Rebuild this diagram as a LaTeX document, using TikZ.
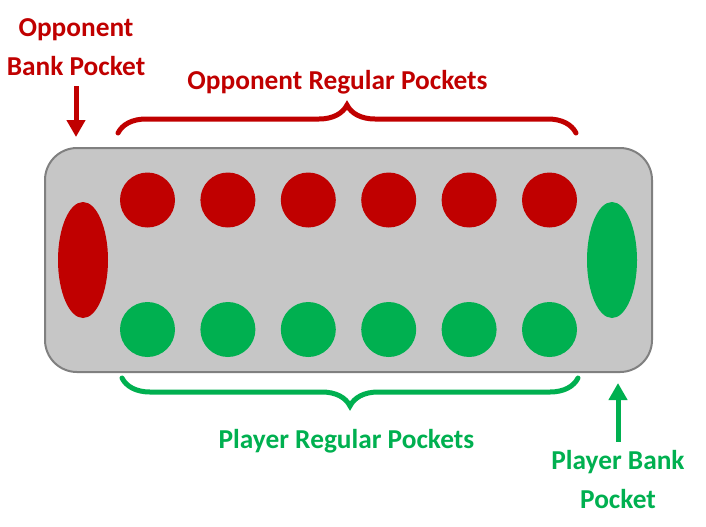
\documentclass[tikz,border=0pt]{standalone}
\usepackage{fontspec}
\setmainfont{Carlito}
\usetikzlibrary{arrows.meta,decorations.pathreplacing,shapes.geometric}

\definecolor{oppred}{HTML}{C00000}
\definecolor{plagreen}{HTML}{00B050}
\definecolor{boardgray}{HTML}{C6C6C6}
\definecolor{rimgray}{HTML}{808080}

\tikzset{
  label text/.style={font=\fontsize{20.5}{29.25}\selectfont\bfseries, inner sep=2pt, align=center},
  bank arrow/.style={line width=3.75pt, -{Triangle[width=13.5pt,length=12.75pt]}},
  pocket brace/.style={line width=3.75pt, line cap=round, decorate,
    decoration={brace, amplitude=21pt}},
}

\begin{document}
\begin{tikzpicture}[x=0.75pt,y=-0.75pt]
      \useasboundingbox (0,0) rectangle (706,526);

      % the board
      \node[draw=rimgray, fill=boardgray, line width=1.5pt, rounded corners=24pt,
            minimum width=455.25pt, minimum height=168pt, inner sep=0pt] (board) at (348.5,260) {};

      \begin{scope}[every node/.style={circle, inner sep=0pt, minimum size=41.25pt}]
        \foreach \i in {1,...,6} {
          \node[fill=oppred]   (r\i) at ({147.5+80.4*(\i-1)},200)   {};
          \node[fill=plagreen] (g\i) at ({147.5+80.4*(\i-1)},329.5) {};
        }
      \end{scope}

      \begin{scope}[every node/.style={ellipse, inner sep=0pt, minimum width=37.5pt, minimum height=87pt}]
        \node[fill=oppred]   (obank) at (83,260)  {};
        \node[fill=plagreen] (pbank) at (612,260) {};
      \end{scope}

      % labels
      \begin{scope}[every node/.style={label text, anchor=base}]
        \node[text=oppred]   (oreglbl)  at (337.5,89)  {Opponent Regular Pockets};
        \node[text=oppred]   (obanklbl) at (76,75)     {Opponent\\Bank Pocket};
        \node[text=plagreen] (preglbl)  at (346.5,448) {Player Regular Pockets};
        \node[text=plagreen] (pbanklbl) at (618,508)   {Player Bank\\Pocket};
      \end{scope}

      % braces and arrows
      \draw[pocket brace, oppred]   (118,133) -- (576,133);
      \draw[pocket brace, plagreen] (578,378) -- (122,378);

      \draw[bank arrow, oppred, shorten <=6pt, shorten >=7.5pt] (obanklbl.south) -- (obanklbl.south |- board.north);
      \draw[bank arrow, plagreen, shorten <=3.75pt, shorten >=7.5pt] (pbanklbl.north) -- (pbanklbl.north |- board.south);

    \end{tikzpicture}
\end{document}
